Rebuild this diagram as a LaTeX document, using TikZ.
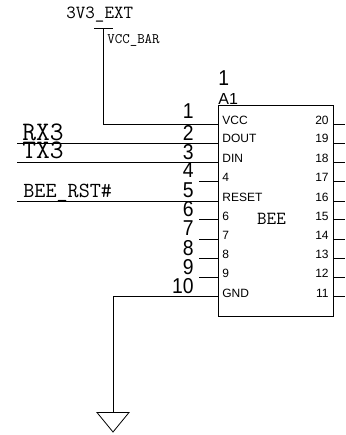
\documentclass[tikz,border=0pt]{standalone}
\usepackage{fontspec}
\setmainfont{Liberation Sans}
\newfontfamily\numfont[FakeStretch=0.9]{Liberation Sans}
\usetikzlibrary{positioning}
\begin{document}
\begin{tikzpicture}[x=1pt, y=-1pt, line width=0.8pt]
	\useasboundingbox (0,0) rectangle (345,435);
	\tikzstyle{noeud}=[draw, minimum width=115pt, minimum height=211pt, inner sep=0pt]
	\tikzstyle{pinname}=[inner sep=0pt, anchor=base west, font=\fontsize{12}{12}\selectfont]
	\tikzstyle{rightnum}=[inner sep=0pt, anchor=base east, font=\fontsize{12}{12}\selectfont]
	\tikzstyle{leftnum}=[inner sep=0pt, anchor=base east, font=\numfont\fontsize{21.5}{21.5}\selectfont]
	\tikzstyle{bignet}=[inner sep=0pt, anchor=base west, font=\ttfamily\fontsize{26.7}{26.7}\selectfont]
	\tikzstyle{midnet}=[inner sep=0pt, anchor=base west, font=\ttfamily\fontsize{18.5}{18.5}\selectfont]
	\node[noeud] (bee) at (276,210.5) {};
	\node[inner sep=0pt, anchor=base, font=\ttfamily\fontsize{18.5}{18.5}\selectfont] (beename) at (271.5,224) {BEE};
	\node[inner sep=0pt, anchor=base west, font=\numfont\fontsize{21.5}{21.5}\selectfont] (refnum) at (218,86) {1};
	\node[inner sep=0pt, anchor=base west, font=\fontsize{16}{16}\selectfont] (refdes) at (218,104.5) {A1};
	% left side
	\node[pinname] (vcc) at (222,125) {VCC};
	\node[pinname] (dout) at (222,143) {DOUT};
	\node[pinname] (din) at (222,163) {DIN};
	\node[pinname] (name4) at (222,182) {4};
	\node[pinname] (reset) at (222,201) {RESET};
	\node[pinname] (name6) at (222,220) {6};
	\node[pinname] (name7) at (222,239) {7};
	\node[pinname] (name8) at (222,258) {8};
	\node[pinname] (name9) at (222,277) {9};
	\node[pinname] (gnd) at (222,297) {GND};
	\node[leftnum] (num1) at (194,119) {1};
	\node[leftnum] (num2) at (194,141) {2};
	\node[leftnum] (num3) at (194,160) {3};
	\node[leftnum] (num4) at (194,178) {4};
	\node[leftnum] (num5) at (194,197) {5};
	\node[leftnum] (num6) at (194,216) {6};
	\node[leftnum] (num7) at (194,235) {7};
	\node[leftnum] (num8) at (194,255) {8};
	\node[leftnum] (num9) at (194,274) {9};
	\node[leftnum] (num10) at (194,293) {10};
	% right side
	\node[rightnum] (num20) at (329,125) {20};
	\node[rightnum] (num19) at (329,143) {19};
	\node[rightnum] (num18) at (329,163) {18};
	\node[rightnum] (num17) at (329,182) {17};
	\node[rightnum] (num16) at (329,201) {16};
	\node[rightnum] (num15) at (329,220) {15};
	\node[rightnum] (num14) at (329,239) {14};
	\node[rightnum] (num13) at (329,258) {13};
	\node[rightnum] (num12) at (329,277) {12};
	\node[rightnum] (num11) at (329,297) {11};
	% nets
	\node[midnet] (ext) at (66,19) {3V3\_EXT};
	\node[inner sep=0pt, anchor=base west, font=\ttfamily\fontsize{14.5}{14.5}\selectfont] (bar) at (107,44) {VCC\_BAR};
	\node[bignet] (rx) at (22,141) {RX3};
	\node[bignet] (tx) at (22,159) {TX3};
	\node[inner sep=0pt, anchor=base west, font=\ttfamily\fontsize{21.5}{21.5}\selectfont] (rst) at (23,197) {BEE\_RST\#};
	\coordinate (barleft) at (94,28.5);
	\coordinate (barright) at (113,28.5);
	\coordinate (barmid) at (103,28.5);
	\coordinate (rxend) at (17,143.5);
	\coordinate (txend) at (17,162.5);
	\coordinate (rstend) at (17,201);
	\coordinate (gndtop) at (113,412.5);
	\coordinate (gndleft) at (97,412.5);
	\coordinate (gndright) at (129,412.5);
	\coordinate (gndtip) at (113,432);
	\draw (barleft) -- (barright);
	\draw (barmid) |- (bee.west |- 0,124);
	\draw (rxend) -- (bee.west |- rxend);
	\draw (txend) -- (bee.west |- txend);
	\draw (rstend) -- (bee.west |- rstend);
	\draw (gndtop) |- (bee.west |- 0,296);
	\draw (gndleft) -- (gndright) -- (gndtip) -- cycle;
	% stubs
	\foreach \y in {181.5,219,239,258,277.5}
		\draw (199,\y) -- (bee.west |- 0,\y);
	\foreach \y in {124,143.5,162.5,181.5,201,219,239,258,277.5,296}
		\draw (bee.east |- 0,\y) -- (345,\y);
\end{tikzpicture}
\end{document}
